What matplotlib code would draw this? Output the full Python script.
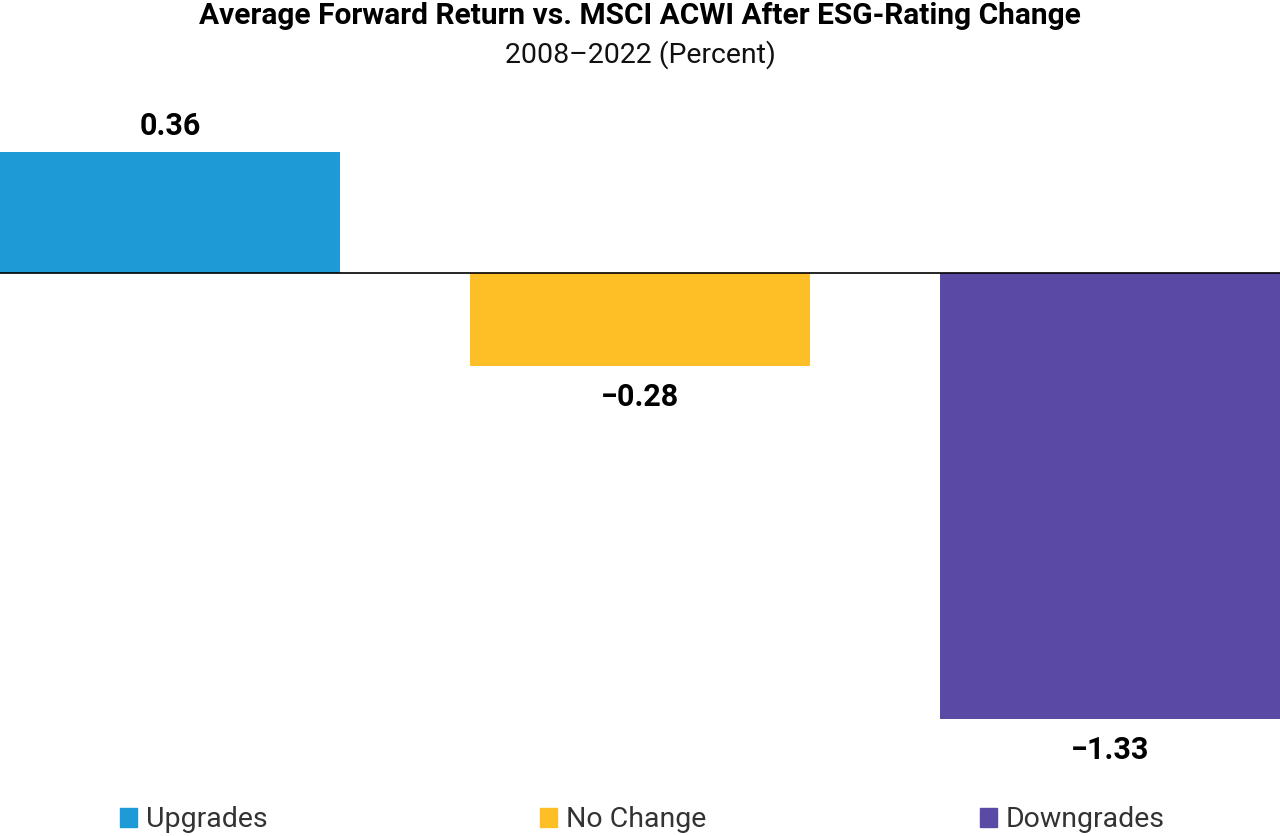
import matplotlib
matplotlib.use("Agg")
import matplotlib.pyplot as plt
from matplotlib.patches import Rectangle

categories = ["Upgrades", "No Change", "Downgrades"]
values = [0.36, -0.28, -1.33]
labels = ["0.36", "\u22120.28", "\u22121.33"]
colors = ["#1E9BD7", "#FDBE26", "#5A4AA6"]

plt.rcParams['font.family'] = ['Roboto', 'DejaVu Sans']

fig = plt.figure(figsize=(12.8, 8.37), dpi=100)
W, H = 1280, 837
zero_px = 273.5
scale = 335.5
ax = fig.add_axes([0, 1 - 740 / H, 1, 640 / H])
width = 340 / 470
x = list(range(len(categories)))
ax.bar(x, values, width=width, color=colors)
ax.set_xlim(-width / 2, len(categories) - 1 + width / 2)
ax.set_ylim(-(740 - zero_px) / scale, (zero_px - 100) / scale)
ax.axhline(0, color="black", lw=1.2)
ax.axis("off")

for xi, v, lab in zip(x, values, labels):
    off = 27 if v >= 0 else -30
    ax.annotate(lab, (xi, v), xytext=(0, off), textcoords="offset pixels",
                ha="center", va="center", fontsize=22, fontweight="bold")

fig.text(640 / W, 1 - 16.5 / H, "Average Forward Return vs. MSCI ACWI After ESG-Rating Change",
         ha="center", va="center", fontsize=21.5, fontweight="bold")
fig.text(640 / W, 1 - 55 / H, "2008\u20132022 (Percent)",
         ha="center", va="center", fontsize=20.5, fontweight="normal", color="#111111")

leg_x = [120, 540, 980]
for lx, cat, c in zip(leg_x, categories, colors):
    fig.patches.append(Rectangle((lx / W, 1 - 828 / H), 17 / W, 19 / H,
                                 transform=fig.transFigure, color=c))
    fig.text((lx + 26) / W, 1 - 820 / H, cat, ha="left", va="center",
             fontsize=20.5, fontweight="normal", color="#333333")

fig.savefig("out.png", dpi=100)
